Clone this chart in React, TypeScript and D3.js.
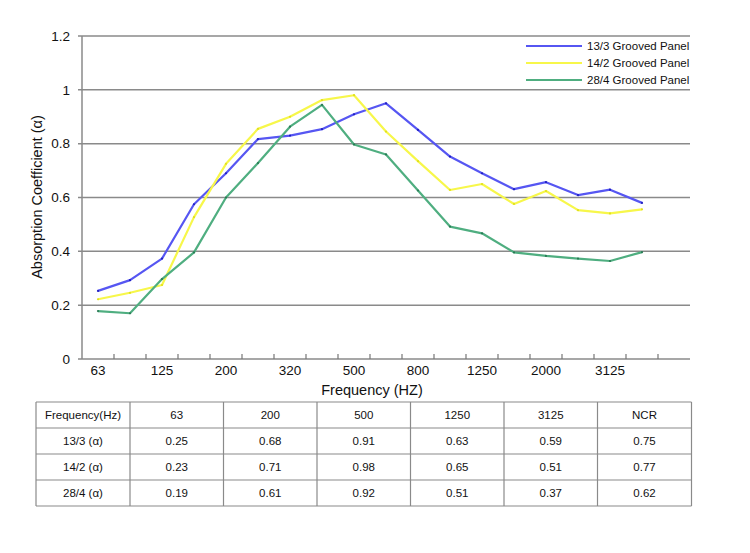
import React from "react";
import * as d3 from "d3";

const tickLabels = ["63", "125", "200", "320", "500", "800", "1250", "2000", "3125"];
const tickLabelIndex = [0, 2, 4, 6, 8, 10, 12, 14, 16];
const categoryCount = 19;

const seriesNames = ["13/3 Grooved Panel", "14/2 Grooved Panel", "28/4 Grooved Panel"];
const seriesColors = ["#5656f2", "#f7f74a", "#4fae80"];
const dotColors = ["#2020c0", "#e0e020", "#2a7a55"];

const blue = [0.253, 0.293, 0.373, 0.575, 0.69, 0.817, 0.83, 0.854, 0.909, 0.95, 0.851, 0.752, 0.69, 0.631, 0.657, 0.609, 0.629, 0.58];
const yellow = [0.222, 0.246, 0.275, 0.527, 0.725, 0.855, 0.9, 0.962, 0.98, 0.845, 0.735, 0.628, 0.65, 0.576, 0.624, 0.553, 0.541, 0.556];
const green = [0.178, 0.17, 0.297, 0.396, 0.6, 0.728, 0.863, 0.944, 0.797, 0.76, 0.626, 0.492, 0.467, 0.396, 0.383, 0.373, 0.364, 0.397];

const yTicks = [0, 0.2, 0.4, 0.6, 0.8, 1, 1.2];

const tableHeader = ["Frequency(Hz)", "63", "200", "500", "1250", "3125", "NCR"];
const tableRowLabels = ["13/3 (α)", "14/2 (α)", "28/4 (α)"];
const tableValues = [
  ["0.25", "0.68", "0.91", "0.63", "0.59", "0.75"],
  ["0.23", "0.71", "0.98", "0.65", "0.51", "0.77"],
  ["0.19", "0.61", "0.92", "0.51", "0.37", "0.62"],
];

const FONT = "'Liberation Sans', Arial, sans-serif";

export default function App() {
  const W = 750, H = 553;
  const left = 82, right = 690, top = 36, bottom = 359;
  const x = d3.scaleLinear().domain([-0.5, categoryCount - 0.5]).range([left, right]);
  const y = d3.scaleLinear().domain([0, 1.2]).range([bottom, top]);
  const series = [blue, yellow, green];
  const line = d3.line<number>().x((_, i) => x(i)).y((d) => y(d));

  const tableX = 36, tableTop = 402;
  const colW = [94, 93.5, 93.5, 93.5, 93.5, 93.5, 94];
  const rowH = 26;
  const colEdges = [tableX];
  colW.forEach((w) => colEdges.push(colEdges[colEdges.length - 1] + w));
  const rows = [tableHeader, ...tableRowLabels.map((l, i) => [l, ...tableValues[i]])];
  const tableBottom = tableTop + rowH * rows.length;

  return (
    <svg width={W} height={H} style={{ position: "absolute", left: 0, top: 0, background: "#fff" }} fontFamily={FONT}>
      <rect width={W} height={H} fill="#fff" />
      {/* gridlines */}
      {yTicks.map((t) => (
        <line key={t} x1={left - 4} x2={right} y1={y(t)} y2={y(t)} stroke="#8a8a8a" strokeWidth={1.5} />
      ))}
      {/* y axis */}
      <line x1={left} x2={left} y1={top} y2={bottom} stroke="#8a8a8a" strokeWidth={1.5} />
      {/* x ticks */}
      {d3.range(categoryCount - 1).map((i) => (
        <line key={i} x1={x(i + 0.5)} x2={x(i + 0.5)} y1={bottom} y2={bottom - 5} stroke="#777" strokeWidth={1.2} />
      ))}
      {yTicks.map((t) => (
        <text key={t} x={70} y={y(t)} dy="0.35em" textAnchor="end" fontSize={13.5} fill="#111">
          {d3.format("~g")(t)}
        </text>
      ))}
      {tickLabelIndex.map((idx, i) => (
        <text key={idx} x={x(idx)} y={375} textAnchor="middle" fontSize={13.5} fill="#111">
          {tickLabels[i]}
        </text>
      ))}
      <text x={372} y={395} textAnchor="middle" fontSize={14.5} fill="#111">Frequency (HZ)</text>
      <text transform="translate(42,197) rotate(-90)" textAnchor="middle" fontSize={14.5} fill="#111">
        Absorption Coefficient (α)
      </text>
      {/* lines */}
      {series.map((s, k) => (
        <g key={k}>
          <path d={line(s) || ""} fill="none" stroke={seriesColors[k]} strokeWidth={2.2} strokeLinejoin="round" />
          {s.map((v, i) => (
            <circle key={i} cx={x(i)} cy={y(v)} r={1.1} fill={dotColors[k]} />
          ))}
        </g>
      ))}
      {/* legend */}
      {seriesNames.map((n, k) => (
        <g key={n} transform={`translate(0,${46 + k * 17})`}>
          <line x1={526} x2={582} y1={0} y2={0} stroke={seriesColors[k]} strokeWidth={2.2} />
          <text x={587} y={0} dy="0.35em" fontSize={11.5} fill="#111">{n}</text>
        </g>
      ))}
      {/* table */}
      <g>
        {rows.map((r, ri) => (
          <g key={ri}>
            {r.map((c, ci) => (
              <text key={ci} x={(colEdges[ci] + colEdges[ci + 1]) / 2} y={tableTop + rowH * ri + rowH / 2} dy="0.35em" textAnchor="middle" fontSize={11.5} fill="#111">
                {c}
              </text>
            ))}
          </g>
        ))}
        {d3.range(rows.length + 1).map((ri) => (
          <line key={"h" + ri} x1={colEdges[0]} x2={colEdges[colEdges.length - 1]} y1={tableTop + rowH * ri} y2={tableTop + rowH * ri} stroke="#8a8a8a" strokeWidth={1.2} />
        ))}
        {colEdges.map((cx, ci) => (
          <line key={"v" + ci} x1={cx} x2={cx} y1={tableTop} y2={tableBottom} stroke="#8a8a8a" strokeWidth={1.2} />
        ))}
      </g>
    </svg>
  );
}
